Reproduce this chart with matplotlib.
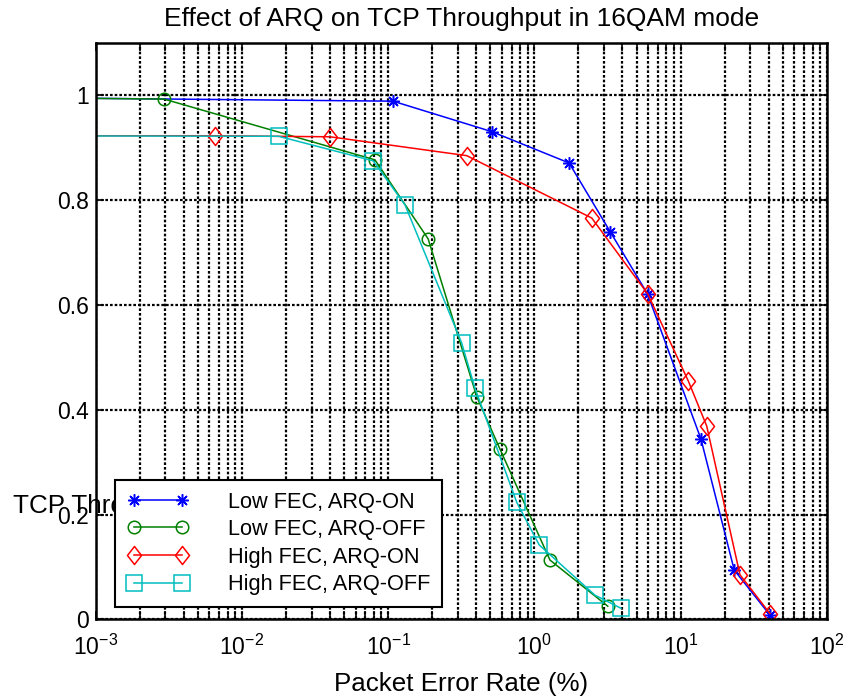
import matplotlib
matplotlib.use("Agg")
import matplotlib.pyplot as plt
from matplotlib.path import Path
from matplotlib.ticker import LogLocator, FixedLocator, FixedFormatter

plt.rcParams['font.family'] = ['Liberation Sans', 'DejaVu Sans']
plt.rcParams['mathtext.fontset'] = 'custom'
plt.rcParams['mathtext.rm'] = 'Liberation Sans'
plt.rcParams['mathtext.it'] = 'Liberation Sans'

# data (first point lies left of the axis, like the original)
x_low_on = [1e-4, 0.108, 0.51, 1.73, 3.3, 5.95, 13.8, 23.3, 40.9]
y_low_on = [0.997, 0.989, 0.931, 0.871, 0.740, 0.621, 0.344, 0.094, 0.008]

x_low_off = [1e-4, 0.00293, 0.0813, 0.188, 0.404, 0.582, 1.28, 3.18]
y_low_off = [0.997, 0.993, 0.877, 0.726, 0.425, 0.325, 0.113, 0.025]

x_high_on = [1e-4, 0.00658, 0.0401, 0.345, 2.47, 5.97, 11.3, 15.1, 25.5, 40.9]
y_high_on = [0.923, 0.923, 0.921, 0.885, 0.766, 0.621, 0.455, 0.369, 0.085, 0.011]

x_high_off = [1e-4, 0.0178, 0.0792, 0.1305, 0.318, 0.393, 0.759, 1.08, 2.60, 3.92]
y_high_off = [0.923, 0.922, 0.875, 0.791, 0.528, 0.441, 0.223, 0.142, 0.046, 0.021]

labels = ['Low FEC, ARQ-ON', 'Low FEC, ARQ-OFF', 'High FEC, ARQ-ON', 'High FEC, ARQ-OFF']
y_ticks = [0, 0.2, 0.4, 0.6, 0.8, 1]
y_tick_labels = ['0', '0.2', '0.4', '0.6', '0.8', '1']

# matlab style diamond, a bit taller than wide
diamond = Path([(0, 1), (0.78, 0), (0, -1), (-0.78, 0), (0, 1)],
               [Path.MOVETO, Path.LINETO, Path.LINETO, Path.LINETO, Path.CLOSEPOLY])

fig = plt.figure(figsize=(8.43, 6.96), dpi=100)
ax = fig.add_axes([0.1135, 0.1102, 0.8672, 0.828])

lw = 1.1
ax.semilogx(x_low_on, y_low_on, color='b', lw=lw, marker=(8, 2, 0), ms=9,
            mew=1.1, label=labels[0])
ax.semilogx(x_low_off, y_low_off, color='#008000', lw=lw, marker='o', ms=9,
            mfc='none', mew=1.1, label=labels[1])
ax.semilogx(x_high_on, y_high_on, color='r', lw=lw, marker=diamond, ms=13,
            mfc='none', mew=1.1, label=labels[2])
ax.semilogx(x_high_off, y_high_off, color='#00BFBF', lw=lw, marker='s', ms=11,
            mfc='none', mew=1.1, label=labels[3])

ax.set_xlim(1e-3, 1e2)
ax.set_ylim(0, 1.1)
ax.xaxis.set_major_locator(LogLocator(base=10, numticks=10))
ax.xaxis.set_minor_locator(LogLocator(base=10, subs=range(2, 10), numticks=50))
ax.yaxis.set_major_locator(FixedLocator(y_ticks))
ax.yaxis.set_major_formatter(FixedFormatter(y_tick_labels))

ax.grid(True, which='both', axis='x', color='k', ls=(0, (1.2, 0.9)), lw=1.6)
ax.grid(True, which='major', axis='y', color='k', ls=(0, (1.2, 0.9)), lw=1.6)

ax.tick_params(which='both', direction='in', top=True, right=True,
               labelsize=16.5, width=1.2)
ax.tick_params(which='major', length=6)
ax.tick_params(which='minor', length=6)
ax.tick_params(axis='x', pad=11)
ax.tick_params(axis='y', pad=5)
for s in ax.spines.values():
    s.set_linewidth(1.8)

ax.set_title('Effect of ARQ on TCP Throughput in 16QAM mode', fontsize=19, pad=12)
ax.set_xlabel('Packet Error Rate (%)', fontsize=18.7, labelpad=9)
ax.set_ylabel('TCP Throughput', fontsize=18.7, rotation=0, ha='left', va='center')
ax.yaxis.set_label_coords(-0.113, 0.196)

leg = ax.legend(loc='lower left', bbox_to_anchor=(0.027, 0.021), numpoints=2,
                fontsize=15.7, handlelength=2.8, handletextpad=1.8,
                labelspacing=0.3, borderpad=0.55, borderaxespad=0,
                fancybox=False, framealpha=1, edgecolor='k')
leg.get_frame().set_linewidth(1.5)

fig.savefig('out.png', dpi=100)
